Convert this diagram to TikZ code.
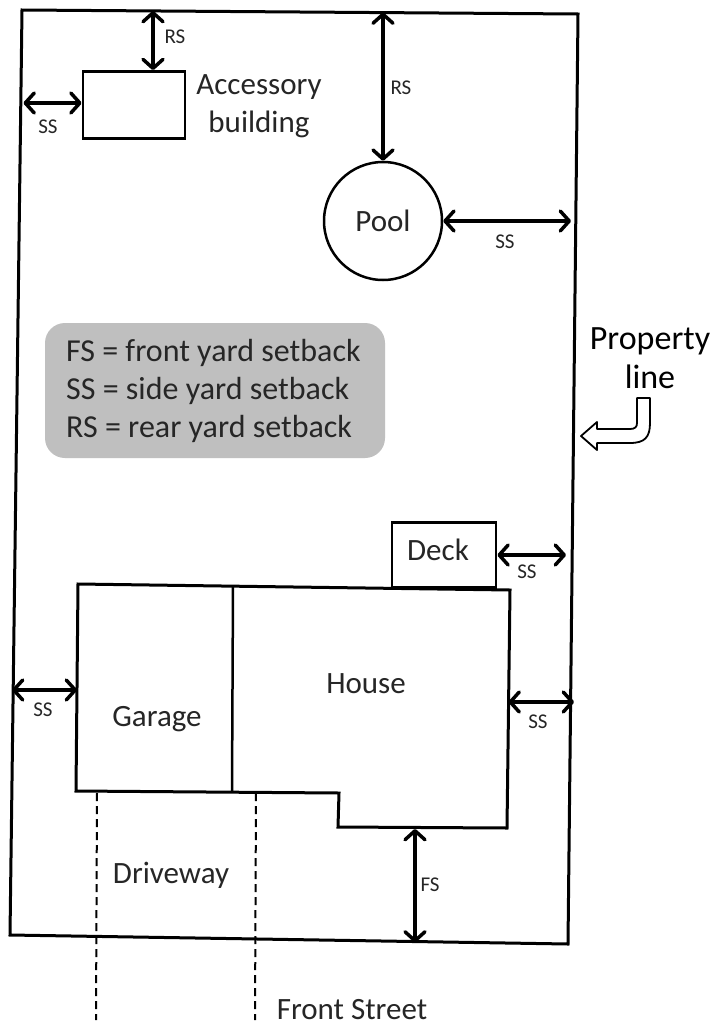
\documentclass[tikz,border=0pt]{standalone}
\usepackage{fontspec}
\setmainfont{Carlito}
\usetikzlibrary{arrows.meta}
\begin{document}
\begin{tikzpicture}[x=1pt,y=-1pt,
  bld/.style={draw,line width=2.8pt,line join=miter,inner sep=0pt},
  barb/.tip={Straight Barb[length=9pt,width=20pt,line join=round,line cap=round]},
  dim/.style={line width=3.5pt,barb-barb},
  lbl/.style={inner sep=0pt,font=\fontsize{31}{38}\selectfont,text=black!85},
  small/.style={inner sep=0pt,font=\fontsize{21}{24}\selectfont,text=black!85},
  drive/.style={line width=2pt,dash pattern=on 8pt off 5pt},
]
\useasboundingbox (0,0) rectangle (726,1028);
\fill[white] (0,0) rectangle (726,1028);

% property line
\coordinate (P1) at (22,10);
\coordinate (P2) at (578,14);
\coordinate (P3) at (568,944);
\coordinate (P4) at (10,935);
\draw[line width=3pt,line join=miter] (P1) -- (P2) -- (P3) -- (P4) -- cycle;

% accessory building
\node[bld,minimum width=102pt,minimum height=67pt] (acc) at (134,105) {};
\node[lbl,align=center] (acclbl) at (259,106) {Accessory\\building};
\coordinate (rsA) at (153,11);
\coordinate (ssA) at (23.5,103);
\draw[dim] (rsA) -- (rsA |- acc.north);
\draw[dim] (ssA) -- (ssA -| acc.west);
\node[small] (rsAl) at (175,37) {RS};
\node[small] (ssAl) at (48,127) {SS};

% pool
\node[draw,circle,line width=2.5pt,minimum size=118pt,inner sep=0pt,lbl] (pool) at (383,221) {Pool};
\coordinate (rsP) at (383,12.5);
\coordinate (ssP) at (571,221);
\draw[dim] (rsP) -- (pool.north);
\draw[dim] (pool.east) -- (ssP);
\node[small] (rsPl) at (401,88) {RS};
\node[small] (ssPl) at (505,242) {SS};

% legend
\node[fill=black!25,rounded corners=20pt,minimum width=340pt,minimum height=135pt,inner sep=0pt] (leg) at (215,390.5) {};
\node[lbl,align=left,font=\fontsize{32}{38}\selectfont,anchor=west] (legtxt) at (66,391) {FS = front yard setback\\SS = side yard setback\\RS = rear yard setback};

% property line label and hollow bent arrow
\node[lbl,align=center,font=\fontsize{34}{39}\selectfont,text=black] (plbl) at (650,358) {Property\\line};
\draw[line width=1.8pt,line join=round,fill=white]
  (650,398) -- (650,423) .. controls (650,437) and (645,443) .. (630,443)
  -- (597,443) -- (597,450) -- (581,436) -- (597,422) -- (597,429)
  -- (630,429) .. controls (635,429) and (637,427) .. (637,423) -- (637,398) -- cycle;

% deck
\node[bld,minimum width=104pt,minimum height=65pt,lbl] (deck) at (444,555) {};
\node[lbl] (decklbl) at (438,550) {Deck};
\coordinate (ssD) at (566,555);
\draw[dim] (deck.east) -- (ssD);
\node[small] (ssDl) at (527,572) {SS};

% house
\coordinate (H1) at (78,584);
\coordinate (H2) at (510,590);
\coordinate (H3) at (507,828);
\coordinate (H4) at (338,827);
\coordinate (H5) at (339,793);
\coordinate (H6) at (76,791);
\draw[line width=3pt,line join=miter] (H1) -- (H2) -- (H3) -- (H4) -- (H5) -- (H6) -- cycle;
\coordinate (G1) at (233,586);
\coordinate (G2) at (232,791);
\draw[line width=2.5pt] (G1) -- (G2);
\node[lbl] (houselbl) at (366,684) {House};
\node[lbl] (garlbl) at (157,719) {Garage};

% setbacks at house
\coordinate (ssL) at (12,690);
\coordinate (hL) at (77,690);
\draw[dim] (ssL) -- (hL);
\node[small] (ssLl) at (43,710) {SS};
\coordinate (hR) at (508.5,702);
\coordinate (ssR) at (574,702);
\draw[dim] (hR) -- (ssR);
\node[small] (ssRl) at (538,722) {SS};
\coordinate (hF) at (415,829);
\coordinate (fs) at (415,942.5);
\draw[dim] (hF) -- (fs);
\node[small] (fsl) at (430,885) {FS};

% driveway
\coordinate (D1) at (97,793);
\coordinate (D2) at (96,1020);
\coordinate (D3) at (256,793);
\coordinate (D4) at (255,1020);
\draw[drive] (D1) -- (D2);
\draw[drive] (D3) -- (D4);
\node[lbl] (drvlbl) at (171,875) {Driveway};
\node[lbl] (street) at (352,1010) {Front Street};
\end{tikzpicture}
\end{document}
